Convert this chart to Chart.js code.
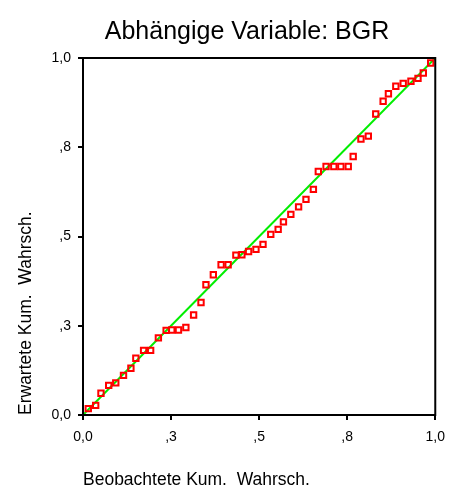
<!DOCTYPE html>
<html>
<head>
<meta charset="utf-8">
<script src="https://cdn.jsdelivr.net/npm/chart.js@4"></script>
<style>body{margin:0;background:#fff}</style>
</head>
<body>
<canvas id="chart" width="454" height="489"></canvas>
<script>
const titleText = 'Abhängige Variable: BGR';
const xTitle = 'Beobachtete Kum.  Wahrsch.';
const yTitle = 'Erwartete Kum.  Wahrsch.';

const obsProb = [0.015, 0.036, 0.051, 0.073, 0.093, 0.115, 0.136, 0.150, 0.172, 0.192,
  0.214, 0.236, 0.252, 0.271, 0.292, 0.314, 0.335, 0.349, 0.370, 0.392,
  0.412, 0.434, 0.451, 0.470, 0.491, 0.511, 0.533, 0.554, 0.569, 0.590,
  0.612, 0.633, 0.654, 0.668, 0.690, 0.712, 0.732, 0.753, 0.767, 0.789,
  0.810, 0.831, 0.852, 0.867, 0.888, 0.909, 0.931, 0.951, 0.966, 0.987];
const expProb = [0.018, 0.027, 0.061, 0.083, 0.090, 0.111, 0.131, 0.159, 0.181, 0.181,
  0.216, 0.237, 0.238, 0.238, 0.245, 0.280, 0.315, 0.365, 0.393, 0.421,
  0.421, 0.448, 0.449, 0.458, 0.464, 0.478, 0.506, 0.520, 0.541, 0.562,
  0.583, 0.604, 0.632, 0.682, 0.696, 0.696, 0.696, 0.696, 0.724, 0.773,
  0.781, 0.843, 0.879, 0.900, 0.921, 0.929, 0.935, 0.943, 0.958, 0.986];
const diagonal = [0, 1];

const tickValues = [0, 0.25, 0.5, 0.75, 1];
const tickLabels = ['0,0', ',3', ',5', ',8', '1,0'];

const font = "'Liberation Sans', Arial, sans-serif";

const framePlugin = {
  id: 'frame',
  afterDraw(chart) {
    const {ctx, chartArea: a} = chart;
    ctx.save();
    ctx.strokeStyle = '#000';
    ctx.lineWidth = 2;
    ctx.strokeRect(a.left, a.top, a.right - a.left, a.bottom - a.top);
    ctx.fillStyle = '#000';
    ctx.font = '25px ' + font;
    ctx.textAlign = 'center';
    ctx.textBaseline = 'middle';
    ctx.fillText(titleText, 247, 32);
    ctx.restore();
  }
};

function axis(title, isX) {
  return {
    type: 'linear',
    min: 0,
    max: 1,
    afterBuildTicks: s => { s.ticks = tickValues.map(v => ({value: v})); },
    afterFit: s => { if (isX) s.height = 74; else s.width = 83; },
    border: {display: false},
    grid: {drawOnChartArea: false, drawTicks: true, tickLength: 5, color: '#000', lineWidth: 2},
    ticks: {
      color: '#000',
      font: {size: 14, family: font},
      padding: isX ? 9 : 7,
      callback: (v, i) => tickLabels[i]
    },
    title: {
      display: true,
      text: title,
      align: 'start',
      color: '#000',
      font: {size: 17.5, family: font, lineHeight: 1},
      padding: isX ? {top: 0, bottom: 0} : {top: 17, bottom: 0}
    }
  };
}

new Chart(document.getElementById('chart'), {
  type: 'scatter',
  data: {
    datasets: [{
      data: obsProb.map((x, i) => ({x: x, y: expProb[i]})),
      pointStyle: 'rect',
      radius: 3.8,
      borderWidth: 2,
      borderColor: '#ff0000',
      backgroundColor: 'rgba(0,0,0,0)'
    }, {
      type: 'line',
      data: diagonal.map(v => ({x: v, y: v})),
      borderColor: '#00ee00',
      borderWidth: 2,
      pointRadius: 0,
      fill: false
    }]
  },
  options: {
    responsive: false,
    animation: false,
    layout: {padding: {top: 58, right: 17, left: 0, bottom: 0}},
    plugins: {legend: {display: false}, tooltip: {enabled: false}, title: {display: false}},
    scales: {
      x: axis(xTitle, true),
      y: axis(yTitle, false)
    }
  },
  plugins: [framePlugin]
});
</script>
</body>
</html>
